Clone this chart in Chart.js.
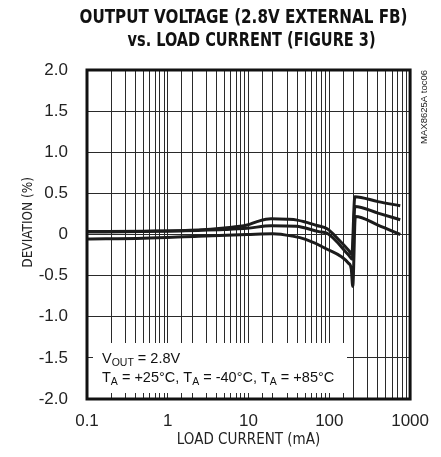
<!DOCTYPE html>
<html>
<head>
<meta charset="utf-8">
<script src="https://cdn.jsdelivr.net/npm/chart.js@4.4.0/dist/chart.umd.min.js"></script>
<style>
  html, body { margin: 0; padding: 0; background: #fff; }
  #chart { display: block; }
</style>
</head>
<body>
<canvas id="chart" width="441" height="457"></canvas>
<script>
// load current (mA) vs deviation (%), three temperature curves
var currentTop   = [0.1, 0.5, 2.4, 5, 9.6, 13, 19, 30, 40, 51, 70, 94, 130, 173, 190, 207, 400, 755];
var deviationTop = [0.035, 0.04, 0.055, 0.08, 0.115, 0.16, 0.19, 0.185, 0.175, 0.15, 0.11, 0.07, -0.06, -0.19, -0.24, 0.46, 0.40, 0.35];

var currentMid   = [0.1, 0.5, 2.4, 5, 9.6, 19, 39, 74, 94, 173, 192, 207, 400, 755];
var deviationMid = [0.03, 0.035, 0.05, 0.06, 0.075, 0.107, 0.1, 0.035, 0.015, -0.25, -0.3, 0.34, 0.26, 0.18];

var currentBot   = [0.1, 0.5, 2.4, 9.6, 20, 35, 51, 90, 173, 187, 195, 210, 400, 755];
var deviationBot = [-0.055, -0.045, -0.02, 0.0, 0.01, -0.02, -0.06, -0.17, -0.35, -0.42, -0.63, 0.22, 0.115, 0.0];

var titleLines = ['OUTPUT VOLTAGE (2.8V EXTERNAL FB)', 'vs. LOAD CURRENT (FIGURE 3)'];
var xTitle = 'LOAD CURRENT (mA)';
var yTitle = '\u2003\u2003DEVIATION (%)'; // leading spaces nudge it up like the original
var xMin = 0.1, xMax = 1000;
var yMin = -2, yMax = 2, yStep = 0.5;

var NARROW = '"Liberation Sans Narrow", "Arial Narrow", "DejaVu Sans Condensed", sans-serif';
var REGULAR = '"Liberation Sans", Arial, sans-serif';
var LINE = '#1c1c1c';

function toPoints(xs, ys) {
  return xs.map(function(x, i) { return {x: x, y: ys[i]}; });
}

function series(xs, ys) {
  return {
    data: toPoints(xs, ys),
    showLine: true,
    borderColor: LINE,
    borderWidth: 3,
    pointRadius: 0,
    cubicInterpolationMode: 'monotone'
  };
}

// draws sub-scripted text pieces like V<sub>OUT</sub>
function drawRich(ctx, parts, x, y) {
  parts.forEach(function(p) {
    ctx.font = p[1] ? '10.5px ' + REGULAR : '14.5px ' + REGULAR;
    ctx.fillText(p[0], x, y + (p[1] ? 3 : 0));
    x += ctx.measureText(p[0]).width;
  });
}

var notes = {
  id: 'notes',
  beforeDatasetsDraw: function(chart) {
    var ctx = chart.ctx, a = chart.chartArea;
    ctx.save();
    ctx.fillStyle = '#fff';
    ctx.fillRect(a.left + 6, a.bottom - 56, 254, 50);
    ctx.fillStyle = '#111';
    ctx.textBaseline = 'alphabetic';
    ctx.textAlign = 'left';
    drawRich(ctx, [['V', 0], ['OUT', 1], [' = 2.8V', 0]], a.left + 15, a.bottom - 36);
    drawRich(ctx, [['T', 0], ['A', 1], [' = +25\u00B0C, T', 0], ['A', 1], [' = -40\u00B0C, T', 0], ['A', 1], [' = +85\u00B0C', 0]], a.left + 15, a.bottom - 17);
    ctx.restore();
  },
  afterDraw: function(chart) {
    var ctx = chart.ctx, a = chart.chartArea;
    var mid = (a.left + a.right) / 2;
    ctx.save();
    ctx.strokeStyle = '#111';
    ctx.lineWidth = 3;
    ctx.strokeRect(a.left, a.top, a.right - a.left, a.bottom - a.top);

    // heavy condensed title, squeezed to the original widths
    ctx.fillStyle = '#111';
    ctx.textAlign = 'center';
    ctx.textBaseline = 'middle';
    ctx.font = 'bold 20px ' + NARROW;
    ctx.fillText(titleLines[0], mid - 5, 18, 328);
    ctx.fillText(titleLines[1], mid + 3, 41, 248);

    ctx.translate(a.right + 14, a.top);
    ctx.rotate(-Math.PI / 2);
    ctx.font = '9.5px ' + REGULAR;
    ctx.fillStyle = '#222';
    ctx.textAlign = 'right';
    ctx.fillText('MAX8625A toc06', 0, 0);
    ctx.restore();
  }
};

var chart = new Chart(document.getElementById('chart'), {
  type: 'scatter',
  data: {
    datasets: [
      series(currentTop, deviationTop),
      series(currentMid, deviationMid),
      series(currentBot, deviationBot)
    ]
  },
  options: {
    responsive: false,
    animation: false,
    layout: { padding: { top: 70, left: 0, right: 25, bottom: 0 } },
    plugins: {
      legend: { display: false },
      tooltip: { enabled: false },
      title: { display: false }
    },
    scales: {
      x: {
        type: 'logarithmic',
        min: xMin,
        max: xMax,
        afterFit: function(s) { s.height = 58; },
        border: { display: false },
        grid: { color: '#2a2a2a', lineWidth: 1, drawTicks: false },
        ticks: {
          autoSkip: false,
          maxRotation: 0,
          padding: 12,
          color: '#222',
          font: { family: REGULAR, size: 17 },
          callback: function(v) {
            var l = Math.log10(v);
            if (Math.abs(l - Math.round(l)) > 1e-6) return '';
            return v < 1 ? v.toString() : Math.round(v).toString();
          }
        },
        title: {
          display: true,
          text: xTitle,
          color: '#222',
          font: { family: NARROW, size: 15 },
          padding: { top: 0, bottom: 8 }
        }
      },
      y: {
        min: yMin,
        max: yMax,
        afterFit: function(s) { s.width = 87; },
        border: { display: false },
        grid: { color: '#2a2a2a', lineWidth: 1, drawTicks: false },
        ticks: {
          stepSize: yStep,
          padding: 19,
          color: '#222',
          font: { family: REGULAR, size: 17 },
          callback: function(v) { return v === 0 ? '0' : v.toFixed(1); }
        },
        title: {
          display: true,
          text: yTitle,
          color: '#222',
          font: { family: NARROW, size: 13.5 },
          padding: { top: 20, bottom: 0 }
        }
      }
    }
  },
  plugins: [notes]
});
</script>
</body>
</html>
